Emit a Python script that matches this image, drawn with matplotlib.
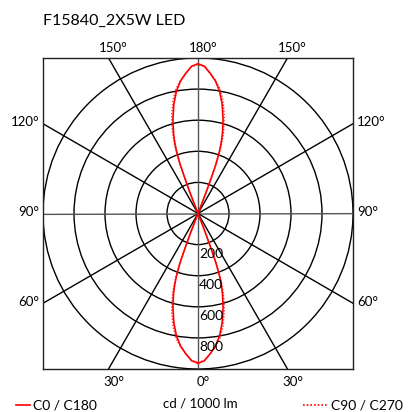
import numpy as np
import matplotlib.pyplot as plt
from matplotlib.patches import Circle
from matplotlib.lines import Line2D

plt.rcParams['font.family'] = ['Lato', 'DejaVu Sans']

title = 'F15840_2X5W LED'

# gamma angle from nadir (deg); the 180° lobe reads the same as the 0° lobe
gamma_deg = [0, 2.5, 5, 7.5, 10, 12.5, 15, 17, 18, 19, 20, 20.5, 21, 21.5, 22]
c0_c180 = [963, 948, 905, 860, 800, 720, 625, 540, 490, 430, 340, 240, 140, 50, 0]
c90_c270 = [958, 945, 905, 865, 815, 745, 655, 570, 520, 460, 370, 270, 160, 60, 0]

ring_values = [200, 400, 600, 800, 1000]
ring_labels = ['200', '400', '600', '800']
spoke_deg = [0, 30, 60, 90, 120, 150]
r_max = 1000

W = H = 412
fig = plt.figure(figsize=(W / 100, H / 100), dpi=100)
fig.patch.set_facecolor('white')

# square box 43..353 x 58..369 px
ax = fig.add_axes([43 / W, (H - 369) / H, 310 / W, 311 / H])
ax.set_xlim(-r_max, r_max)
ax.set_ylim(-r_max, r_max)
ax.set_xticks([])
ax.set_yticks([])
for s in ax.spines.values():
    s.set_linewidth(1.0)
    s.set_color('#222222')


def lobe_xy(values):
    g = np.radians(gamma_deg)
    r = np.array(values, dtype=float)
    sx = r * np.sin(g)
    cy = r * np.cos(g)
    # right half: 0° lobe out to centre, then 180° lobe back to the top
    xr = np.concatenate([sx, sx[::-1]])
    yr = np.concatenate([-cy, cy[::-1]])
    # left half mirrors back down
    x = np.concatenate([xr, -xr[::-1]])
    y = np.concatenate([yr, yr[::-1]])
    return x, y


# grid rings
for v in ring_values:
    ax.add_patch(Circle((0, 0), v, fill=False, edgecolor='black', lw=1.0, zorder=1))

# spokes every 30°
for a in spoke_deg:
    t = np.radians(a)
    col = '#555555' if a in (0, 90) else 'black'
    ax.plot([-2 * r_max * np.sin(t), 2 * r_max * np.sin(t)],
            [-2 * r_max * np.cos(t), 2 * r_max * np.cos(t)],
            color=col, lw=1.0, zorder=1)

x, y = lobe_xy(c90_c270)
ax.plot(x, y, color='#ff3030', lw=1.0, linestyle=(0, (1, 1.2)), zorder=3)
x, y = lobe_xy(c0_c180)
ax.plot(x, y, color='#ff0000', lw=1.2, zorder=4)

# ring values along the lower axis
for v, lab in zip(ring_values, ring_labels):
    ax.annotate(lab, xy=(0, -v), xytext=(0.8, -2.5), textcoords='offset points',
                ha='left', va='top', fontsize=10, zorder=5)

fs = 9.5
t30 = np.tan(np.radians(30)) * r_max
# top and bottom angle labels
for xd, lab in [(-t30, '150°'), (0, '180°'), (t30, '150°')]:
    ax.annotate(lab, xy=(xd, r_max), xytext=(3.6, 7.5), textcoords='offset points',
                ha='center', va='center', fontsize=fs, annotation_clip=False)
for xd, lab in [(-t30, '30°'), (0, '0°'), (t30, '30°')]:
    ax.annotate(lab, xy=(xd, -r_max), xytext=(3.6, -9.5), textcoords='offset points',
                ha='center', va='center', fontsize=fs, annotation_clip=False)
# side angle labels
for yd, lab in [(t30, '120°'), (0, '90°'), (-t30, '60°')]:
    ax.annotate(lab, xy=(-r_max, yd), xytext=(-2.5, 1), textcoords='offset points',
                ha='right', va='center', fontsize=fs, annotation_clip=False)
    ax.annotate(lab, xy=(r_max, yd), xytext=(3, 1), textcoords='offset points',
                ha='left', va='center', fontsize=fs, annotation_clip=False)

fig.text(43 / W, 1 - 21 / H, title, ha='left', va='center', fontsize=11.5)

# legend row
ly = 1 - 405 / H
fig.add_artist(Line2D([16 / W, 30 / W], [ly, ly], color='#ff0000', lw=1.2))
fig.text(33 / W, ly, 'C0 / C180', ha='left', va='center', fontsize=10)
fig.text(200 / W, ly + 1 / H, 'cd / 1000 lm', ha='center', va='center', fontsize=fs)
fig.add_artist(Line2D([303 / W, 328 / W], [ly, ly], color='#ff0000', lw=1.2,
                      linestyle=(0, (1, 1.2))))
fig.text(331 / W, ly, 'C90 / C270', ha='left', va='center', fontsize=10)

plt.savefig('out.png', dpi=100)
